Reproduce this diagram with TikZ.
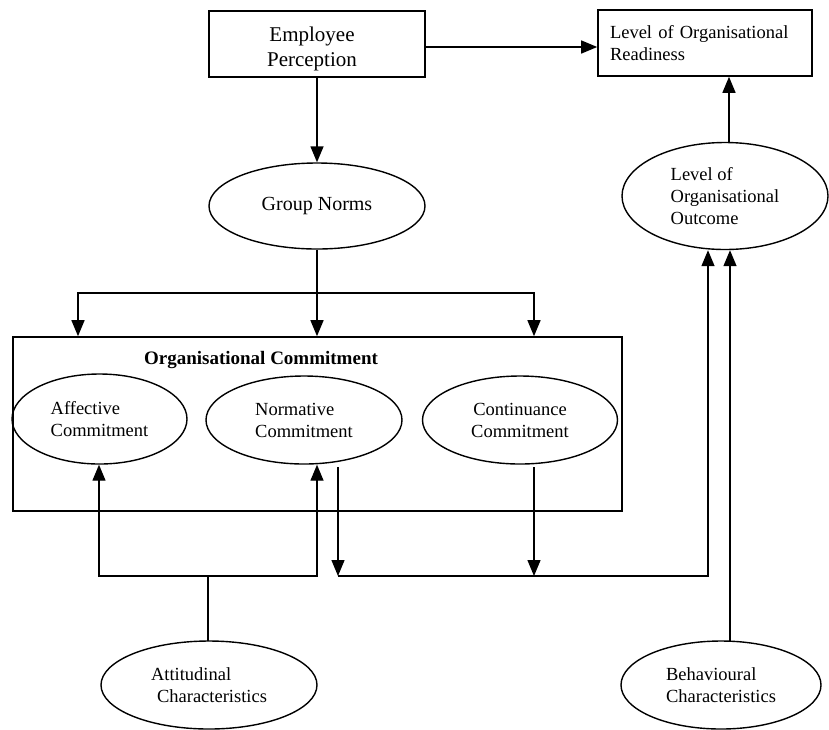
\documentclass[tikz,border=0pt]{standalone}
\usepackage{fontspec}
\setmainfont{Liberation Serif}
\usetikzlibrary{shapes.geometric,arrows.meta}
\begin{document}
\begin{tikzpicture}[x=1pt,y=-1pt,
  box/.style={draw, line width=1.6pt, rectangle, inner sep=0pt},
  ell/.style={draw, line width=1.4pt, ellipse, inner sep=0pt},
  conn/.style={line width=1.4pt},
  arr/.style={conn, -{Triangle[length=16pt,width=13pt]}},
  txt/.style={font=\fontsize{18.5}{22}\selectfont},
  bigtxt/.style={font=\fontsize{21}{25}\selectfont}
]
\useasboundingbox (0,0) rectangle (829,729);

% top boxes
\node[box, minimum width=216pt, minimum height=66pt] (ep) at (317,44) {};
\node[bigtxt, align=center, inner sep=0pt] (eptext) at (312,49) {Employee\\Perception};
\node[box, txt, align=left, text width=190pt, minimum width=214pt, minimum height=66pt] (rd) at (705,43) {Level of Organisational\\Readiness};

% ellipses upper
\node[ell, font=\fontsize{20}{24}\selectfont, minimum width=216pt, minimum height=86pt] (gn) at (317,206) {Group Norms};
\node[ell, txt, align=left, minimum width=206pt, minimum height=107pt] (oo) at (725,196) {Level of\\Organisational\\Outcome};

% commitment box
\node[box, minimum width=609pt, minimum height=174pt] (oc) at (317.5,424) {};
\node[font=\bfseries\fontsize{19}{22}\selectfont] (title) at (261,360) {Organisational Commitment};
\node[ell, txt, align=left, minimum width=175pt, minimum height=90pt] (af) at (99.5,419) {Affective\\Commitment};
\node[ell, txt, align=left, minimum width=196pt, minimum height=88pt] (nm) at (304,420) {Normative\\Commitment};
\node[ell, txt, align=center, minimum width=195pt, minimum height=88pt] (cc) at (520,420) {Continuance\\Commitment};

% bottom ellipses
\node[ell, txt, align=left, minimum width=216pt, minimum height=88pt] (at) at (209,685) {Attitudinal\\\hspace*{6pt}Characteristics};
\node[ell, txt, align=left, minimum width=200pt, minimum height=88pt] (bh) at (721,685) {Behavioural\\Characteristics};

% coordinates
\coordinate (epr) at (425,47);
\coordinate (oot) at (729,142);
\coordinate (b1) at (78,293);
\coordinate (b3) at (534,293);
\coordinate (l1) at (99,576);
\coordinate (l2) at (317,576);
\coordinate (ast) at (208,641);
\coordinate (r0) at (338,576);
\coordinate (r2) at (708,576);
\coordinate (nmout) at (338,467);
\coordinate (ccout) at (534,467);
\coordinate (bhs) at (730,641);

% connectors top
\draw[arr] (epr) -- (epr -| rd.west);
\draw[arr] (ep.south) -- (gn.north);
\draw[arr] (oot) -- (oot |- rd.south);

% branches from group norms
\draw[arr] (gn.south) -- (gn.south |- oc.north);
\draw[arr] (b3) -- (b1) -- (b1 |- oc.north);
\draw[arr] (b1) -- (b3) -- (b3 |- oc.north);

% attitudinal
\draw[arr] (l2) -- (l1) -- (l1 |- af.south);
\draw[arr] (l1) -- (l2) -- (l2 |- nm.south);
\draw[conn] (ast) -- (ast |- l1);

% outputs to outcome
\draw[arr] (nmout) -- (nmout |- r0);
\draw[arr] (ccout) -- (ccout |- r0);
\draw[arr] (r0) -- (r2) -- (r2 |- oo.south);
\draw[arr] (bhs) -- (bhs |- oo.south);
\end{tikzpicture}
\end{document}
